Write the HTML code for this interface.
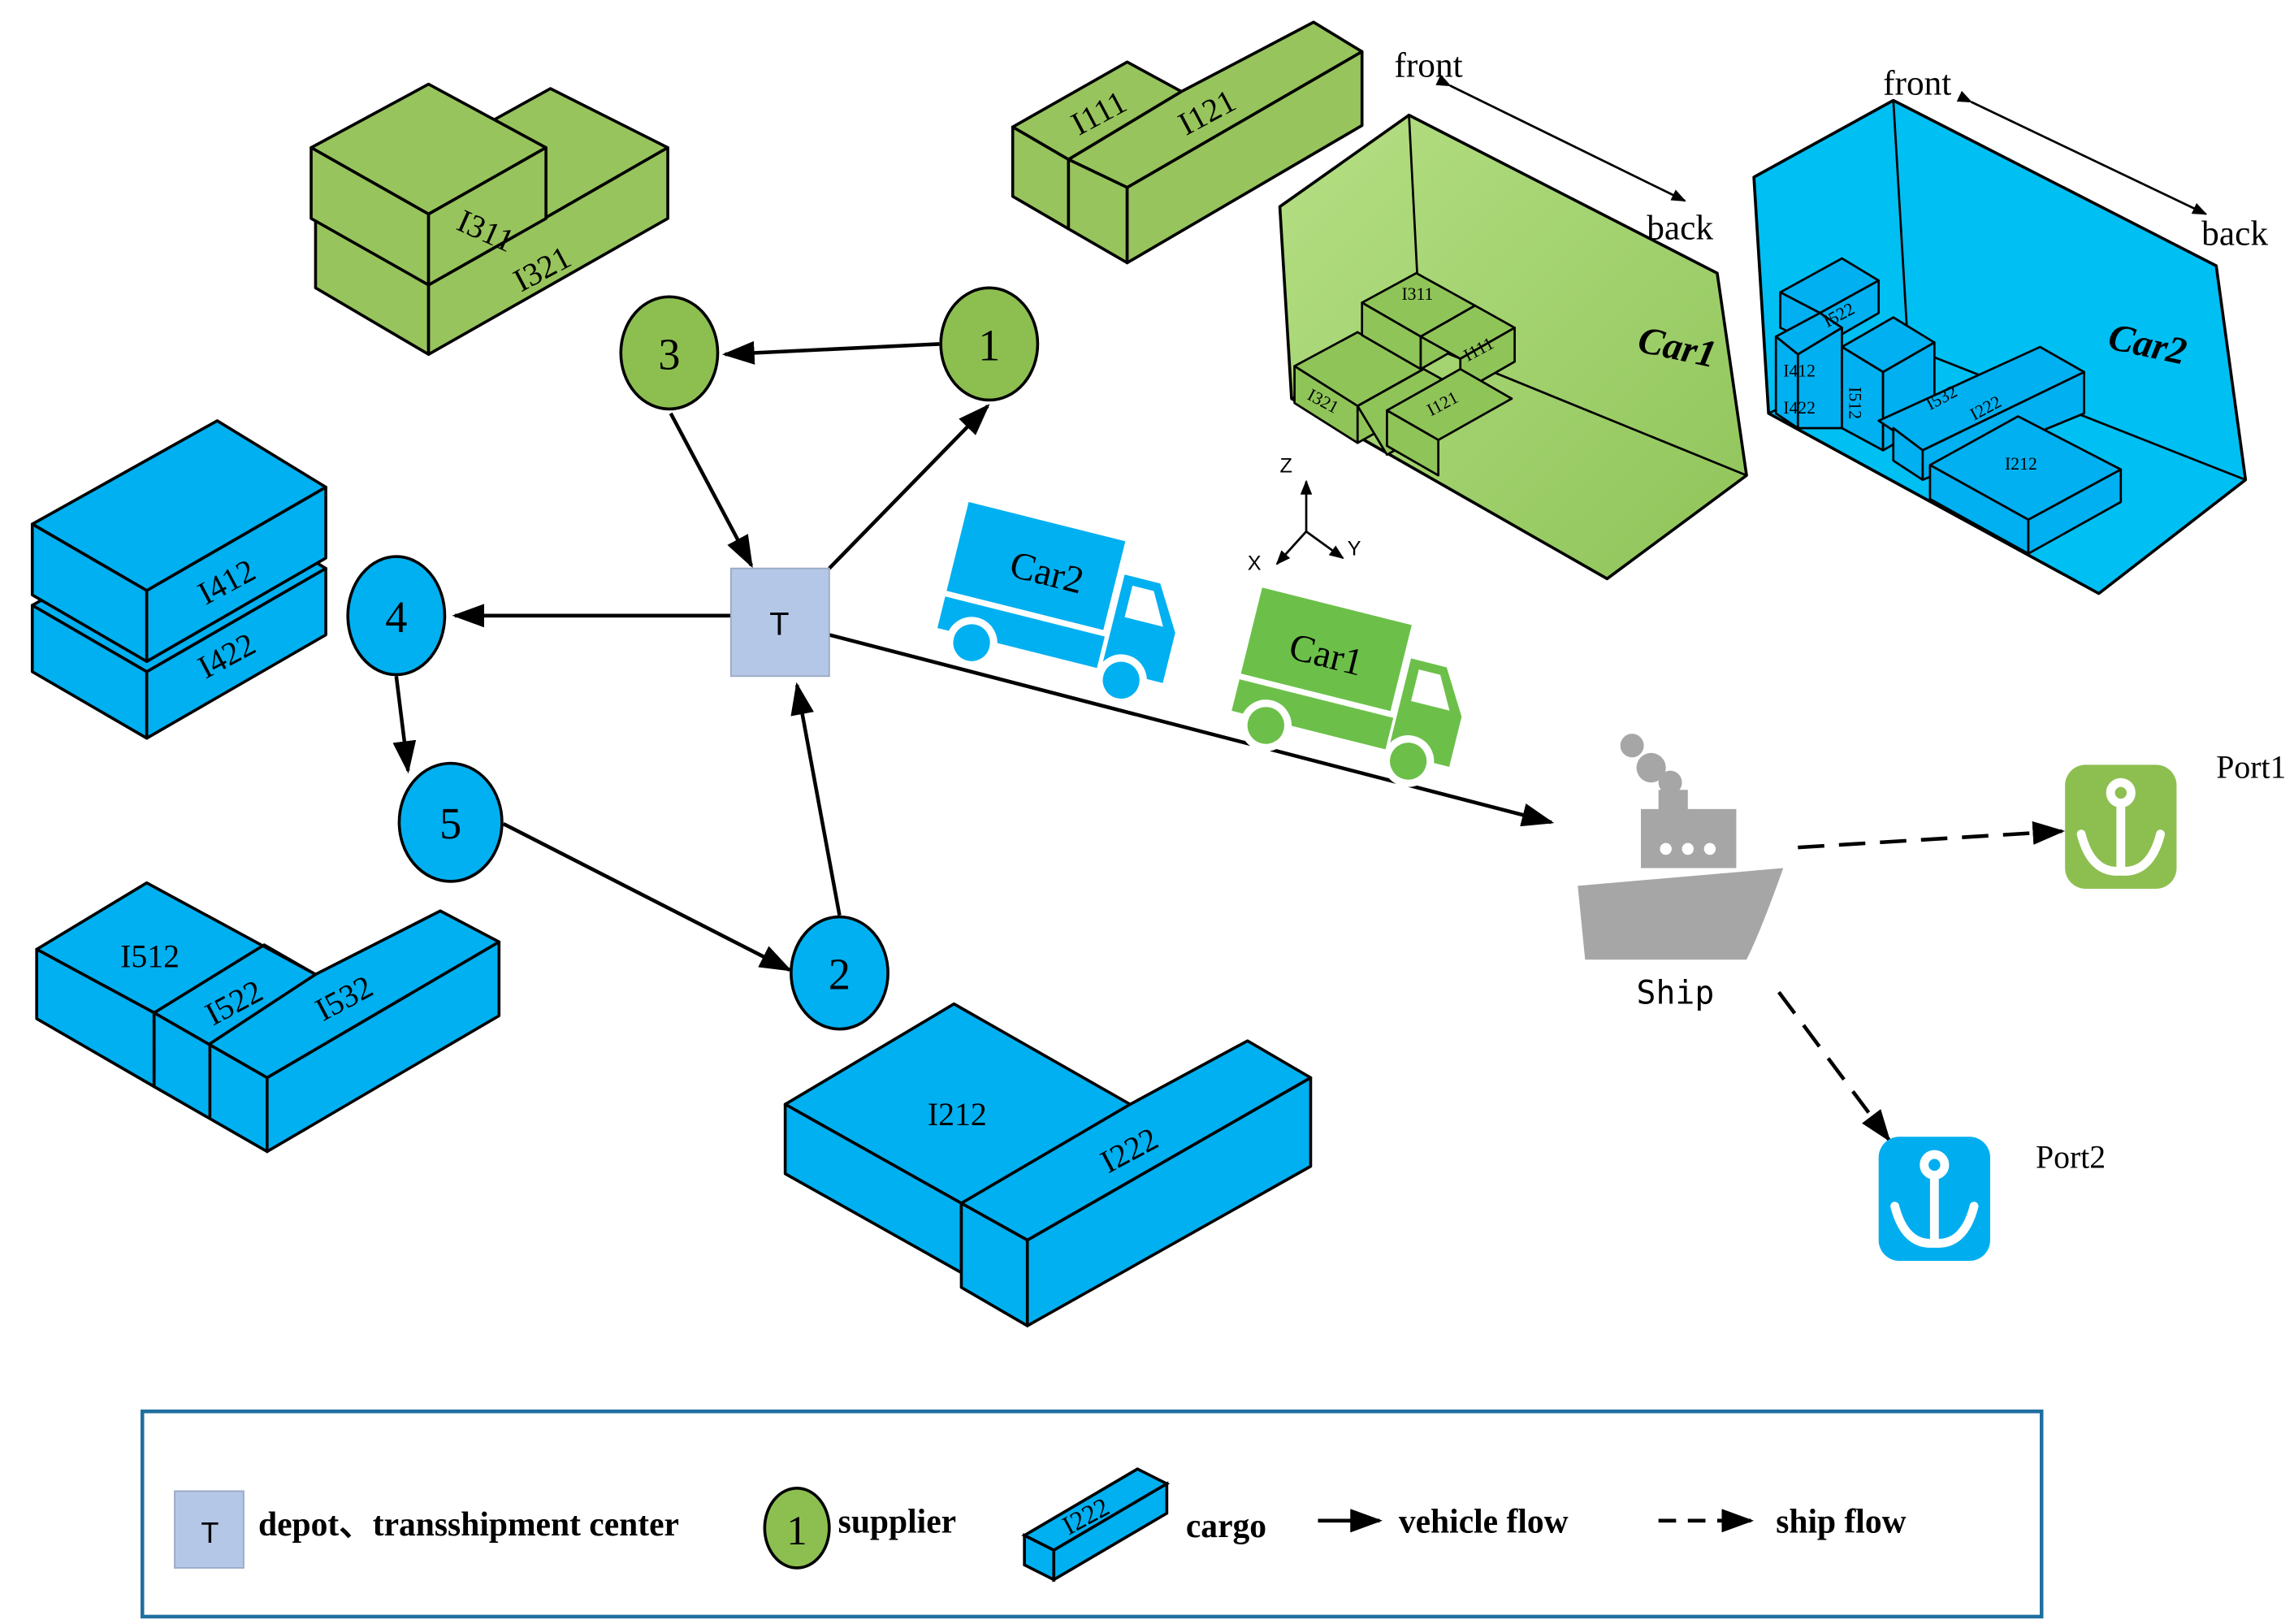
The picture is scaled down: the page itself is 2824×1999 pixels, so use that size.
<!DOCTYPE html>
<html><head><meta charset="utf-8"><style>html,body{margin:0;padding:0;background:#fff}svg{display:block}</style></head>
<body>
<svg width="2824" height="1999" viewBox="0 0 1563 1100" preserveAspectRatio="none" xmlns="http://www.w3.org/2000/svg" font-family="Liberation Serif, serif">
<defs>
<marker id="ah" markerWidth="10" markerHeight="8" refX="9" refY="4" orient="auto" markerUnits="userSpaceOnUse"><path d="M0,0 L10,4 L0,8 Z" fill="#000"/></marker>
<marker id="ah2" markerWidth="22" markerHeight="16" refX="20" refY="8" orient="auto" markerUnits="userSpaceOnUse"><path d="M0,0 L22,8 L0,16 Z" fill="#000"/></marker>
<linearGradient id="g1" x1="0" y1="0" x2="1" y2="1"><stop offset="0" stop-color="#b5df84"/><stop offset="1" stop-color="#8fc459"/></linearGradient>
</defs>
<g stroke="#000" stroke-width="2" stroke-linejoin="round">
<g fill="#97c45c">
<polygon points="215,148 375,60 455,100 292,193"/>
<polygon points="215,148 292,193 292,240 215,195"/>
<polygon points="292,193 455,100 455,148 292,240"/>
<polygon points="212,100 292,57 372,100 292,145"/>
<polygon points="212,100 292,145 292,193 212,148"/>
<polygon points="292,145 372,100 372,148 292,193"/>
</g>
<g fill="#97c45c">
<polygon points="690,86 768,42 805,62 728,108"/>
<polygon points="690,86 728,108 728,155 690,133"/>
<polygon points="728,108 805,62 895,15 928,35 768,127"/>
<polygon points="728,108 768,127 768,178 728,155"/>
<polygon points="768,127 928,35 928,85 768,178"/>
</g>
<g fill="#00b0f0">
<polygon points="22,410 148,340 222,385 100,455"/>
<polygon points="22,410 100,455 100,500 22,455"/>
<polygon points="100,455 222,385 222,430 100,500"/>
<polygon points="22,355 148,285 222,330 100,400"/>
<polygon points="22,355 100,400 100,448 22,403"/>
<polygon points="100,400 222,330 222,378 100,448"/>
</g>
<g fill="#00b0f0">
<polygon points="25,643 100,598 215,660 300,617 340,638 182,730 105,686"/>
<polygon points="25,643 105,686 105,736 25,690"/>
<polygon points="105,686 182,730 182,780 105,736"/>
<polygon points="182,730 340,638 340,688 182,780"/>
<polyline fill="none" points="105,686 180,640 215,660"/>
<line x1="143" y1="707" x2="143" y2="757"/><line x1="143" y1="707" x2="215" y2="660"/>
</g>
<g fill="#00b0f0">
<polygon points="535,748 650,680 770,748 850,705 893,730 700,840 655,815"/>
<polygon points="535,748 655,815 655,862 535,795"/>
<polygon points="655,815 700,840 700,898 655,872"/>
<polygon points="700,840 893,730 893,790 700,898"/>
<line x1="655" y1="815" x2="770" y2="748"/>
</g>
<polygon points="872,140 960,78 1170,185 1190,322 1095,392 880,270" fill="url(#g1)"/>
<polyline fill="none" points="960,78 968,232 1190,322" stroke-width="1.5"/>
<line x1="968" y1="232" x2="880" y2="270" stroke-width="1.5"/>
<g fill="#8fc459" stroke-width="1.5">
<polygon points="882,248 925,225 970,250 925,275"/><polygon points="882,248 925,275 925,300 882,273"/><polygon points="925,275 970,250 970,275 925,300"/>
<polygon points="925,275 970,250 1010,272 945,308"/>
<polygon points="928,205 965,185 1005,207 968,228"/><polygon points="928,205 968,228 968,250 928,227"/><polygon points="968,228 1005,207 1005,229 968,250"/>
<polygon points="968,228 1005,207 1032,222 995,243"/><polygon points="995,243 1032,222 1032,245 995,266"/>
<polygon points="945,278 995,250 1030,270 980,298"/><polygon points="945,278 980,298 980,322 945,302"/>
</g>
<polygon points="1195,120 1290,68 1510,180 1530,325 1430,402 1205,280" fill="#00bff3"/>
<polyline fill="none" points="1290,68 1300,235 1530,325" stroke-width="1.5"/>
<line x1="1300" y1="235" x2="1205" y2="280" stroke-width="1.5"/>
<g fill="#00b0f0" stroke-width="1.5">
<polygon points="1213,198 1255,175 1280,190 1240,212"/><polygon points="1213,198 1240,212 1240,235 1213,222"/><polygon points="1240,212 1280,190 1280,212 1240,235"/>
<polygon points="1210,228 1240,212 1255,222 1225,240"/><polygon points="1210,228 1225,240 1225,290 1210,280"/>
<polygon points="1225,240 1255,222 1255,290 1225,290" />
<polygon points="1255,235 1290,215 1318,232 1283,252"/><polygon points="1255,235 1283,252 1283,305 1255,290"/><polygon points="1283,252 1318,232 1318,285 1283,305"/>
<polygon points="1280,285 1390,235 1420,252 1310,305"/><polygon points="1290,290 1310,305 1310,325 1290,312"/>
<polygon points="1310,305 1420,252 1420,280 1310,325"/>
<polygon points="1315,315 1375,282 1445,318 1382,352"/><polygon points="1315,315 1382,352 1382,375 1315,338"/><polygon points="1382,352 1445,318 1445,340 1382,375"/>
</g>
</g>
<g font-size="22" fill="#000">
<text transform="translate(310,155) rotate(24)">I311</text>
<text transform="translate(355,198) rotate(-28)">I321</text>
<text transform="translate(735,92) rotate(-28)">I111</text>
<text transform="translate(808,92) rotate(-28)">I121</text>
<text transform="translate(140,410) rotate(-28)">I412</text>
<text transform="translate(140,460) rotate(-28)">I422</text>
<text transform="translate(82,655)">I512</text>
<text transform="translate(145,695) rotate(-28)">I522</text>
<text transform="translate(220,692) rotate(-28)">I532</text>
<text transform="translate(632,762)">I212</text>
<text transform="translate(755,795) rotate(-28)">I222</text>
</g>
<g font-size="12" fill="#000">
<text x="955" y="203">I311</text>
<text transform="translate(1000,245) rotate(-28)">I111</text>
<text transform="translate(975,282) rotate(-28)">I121</text>
<text transform="translate(890,270) rotate(28)">I321</text>
<text transform="translate(1245,222) rotate(-28)">I522</text>
<text x="1215" y="255">I412</text>
<text x="1215" y="280">I422</text>
<text transform="translate(1260,262) rotate(90)">I512</text>
<text transform="translate(1315,278) rotate(-28)">I532</text>
<text transform="translate(1345,285) rotate(-28)">I222</text>
<text x="1366" y="318">I212</text>
</g>
<g font-size="24" fill="#000">
<text x="950" y="52">front</text><text x="1122" y="162">back</text>
<text x="1283" y="64">front</text><text x="1500" y="166">back</text>
<text x="1116" y="243" font-style="italic" font-weight="bold" font-size="26" transform="rotate(12 1140 235)">Car1</text>
<text x="1436" y="241" font-style="italic" font-weight="bold" font-size="26" transform="rotate(12 1460 235)">Car2</text>
</g>
<g stroke="#000" stroke-width="1.5">
<line x1="988" y1="58" x2="1148" y2="136" marker-end="url(#ah)" marker-start="url(#ah)"/>
<line x1="1343" y1="69" x2="1503" y2="145" marker-end="url(#ah)" marker-start="url(#ah)"/>
</g>
<g stroke="#000" stroke-width="1.5" font-size="14" font-family="Liberation Sans, sans-serif">
<line x1="890" y1="360" x2="890" y2="326" marker-end="url(#ah)"/>
<line x1="890" y1="360" x2="870" y2="382" marker-end="url(#ah)"/>
<line x1="890" y1="360" x2="915" y2="378" marker-end="url(#ah)"/>
<text x="872" y="320" stroke="none">Z</text><text x="850" y="386" stroke="none">X</text><text x="918" y="376" stroke="none">Y</text>
</g>
<g stroke="#000" stroke-width="2.5" fill="none">
<line x1="640" y1="233" x2="494" y2="240" marker-end="url(#ah2)"/>
<line x1="457" y1="280" x2="512" y2="383" marker-end="url(#ah2)"/>
<line x1="565" y1="385" x2="673" y2="275" marker-end="url(#ah2)"/>
<line x1="498" y1="417" x2="310" y2="417" marker-end="url(#ah2)"/>
<line x1="270" y1="458" x2="278" y2="522" marker-end="url(#ah2)"/>
<line x1="343" y1="558" x2="538" y2="657" marker-end="url(#ah2)"/>
<line x1="572" y1="620" x2="543" y2="464" marker-end="url(#ah2)"/>
<line x1="565" y1="430" x2="1057" y2="557" marker-end="url(#ah2)"/>
<line x1="1225" y1="574" x2="1405" y2="563" stroke-dasharray="18,10" marker-end="url(#ah2)"/>
<line x1="1212" y1="672" x2="1287" y2="772" stroke-dasharray="18,10" marker-end="url(#ah2)"/>
</g>
<g stroke="#000" stroke-width="2" font-size="30" text-anchor="middle">
<ellipse cx="456" cy="239" rx="33" ry="38" fill="#8dbf50"/><text x="456" y="250" stroke="none">3</text>
<ellipse cx="674" cy="233" rx="33" ry="38" fill="#8dbf50"/><text x="674" y="244" stroke="none">1</text>
<ellipse cx="270" cy="417" rx="33" ry="40" fill="#00b0f0"/><text x="270" y="428" stroke="none">4</text>
<ellipse cx="307" cy="557" rx="35" ry="40" fill="#00b0f0"/><text x="307" y="568" stroke="none">5</text>
<ellipse cx="572" cy="659" rx="33" ry="38" fill="#00b0f0"/><text x="572" y="670" stroke="none">2</text>
</g>
<rect x="498" y="385" width="67" height="73" fill="#b4c7e7" stroke="#9aa9c2"/>
<text x="531" y="430" font-size="22" text-anchor="middle" font-family="Liberation Sans, sans-serif">T</text>
<g transform="translate(660,340) rotate(14)">
<rect x="0" y="0" width="110" height="62" fill="#00b0f0"/>
<path d="M115,22 h25 l18,30 v35 h-43z" fill="#00b0f0"/><path d="M122,28 h15 l12,22 h-27z" fill="#fff"/>
<rect x="0" y="66" width="112" height="22" fill="#00b0f0"/>
<circle cx="25" cy="92" r="15" fill="#00b0f0" stroke="#fff" stroke-width="5"/><circle cx="130" cy="92" r="15" fill="#00b0f0" stroke="#fff" stroke-width="5"/>
<text x="38" y="42" font-size="26" fill="#000">Car2</text>
</g>
<g transform="translate(860,398) rotate(14)">
<rect x="0" y="0" width="105" height="60" fill="#6cc04a"/>
<path d="M110,22 h25 l18,30 v35 h-43z" fill="#6cc04a"/><path d="M117,28 h15 l12,22 h-27z" fill="#fff"/>
<rect x="0" y="64" width="108" height="22" fill="#6cc04a"/>
<circle cx="25" cy="90" r="15" fill="#6cc04a" stroke="#fff" stroke-width="5"/><circle cx="125" cy="90" r="15" fill="#6cc04a" stroke="#fff" stroke-width="5"/>
<text x="28" y="42" font-size="26" fill="#000">Car1</text>
</g>
<g fill="#a6a6a6">
<circle cx="1112" cy="505" r="8"/><circle cx="1125" cy="520" r="10"/><circle cx="1138" cy="530" r="8"/>
<rect x="1130" y="535" width="20" height="14"/>
<rect x="1118" y="548" width="65" height="40"/>
<path d="M1075,600 L1215,588 Q1200,630 1190,650 L1080,650 Z"/>
</g>
<g fill="#fff"><circle cx="1135" cy="575" r="4"/><circle cx="1150" cy="575" r="4"/><circle cx="1165" cy="575" r="4"/></g>
<text x="1115" y="680" font-size="22" font-family="DejaVu Sans Mono, monospace">Ship</text>
<rect x="1407" y="518" width="76" height="84" rx="14" fill="#8dbf50"/>
<rect x="1280" y="770" width="76" height="84" rx="14" fill="#00aeef"/>
<g stroke="#fff" stroke-width="6" fill="none" stroke-linecap="round">
<circle cx="1445" cy="537" r="7"/><line x1="1445" y1="544" x2="1445" y2="590"/><path d="M1418,565 Q1425,592 1445,590 Q1465,592 1472,565"/>
<circle cx="1318" cy="789" r="7"/><line x1="1318" y1="796" x2="1318" y2="842"/><path d="M1291,817 Q1298,844 1318,842 Q1338,844 1345,817"/>
</g>
<text x="1510" y="527" font-size="22">Port1</text>
<text x="1387" y="791" font-size="22">Port2</text>
<rect x="97" y="956" width="1294" height="139" fill="none" stroke="#1f6f9f" stroke-width="2.5"/>
<rect x="119" y="1010" width="47" height="52" fill="#b4c7e7" stroke="#9aa9c2"/>
<text x="143" y="1045" font-size="20" text-anchor="middle" font-family="Liberation Sans, sans-serif">T</text>
<g font-size="23" font-weight="bold">
<text x="176" y="1040">depot、transshipment center</text>
<text x="571" y="1038">supplier</text>
<text x="808" y="1041">cargo</text>
<text x="953" y="1038">vehicle flow</text>
<text x="1210" y="1038">ship flow</text>
</g>
<ellipse cx="543" cy="1035" rx="22" ry="27" fill="#8dbf50" stroke="#000" stroke-width="2"/>
<text x="543" y="1046" font-size="28" text-anchor="middle">1</text>
<g fill="#00b0f0" stroke="#000" stroke-width="2">
<polygon points="698,1040 775,995 795,1005 718,1050"/>
<polygon points="698,1040 718,1050 718,1070 698,1060"/>
<polygon points="718,1050 795,1005 795,1025 718,1070"/>
</g>
<text transform="translate(728,1040) rotate(-28)" font-size="18">I222</text>
<line x1="898" y1="1030" x2="940" y2="1030" stroke="#000" stroke-width="2.5" marker-end="url(#ah2)"/>
<line x1="1130" y1="1030" x2="1193" y2="1030" stroke="#000" stroke-width="2.5" stroke-dasharray="12,8" marker-end="url(#ah2)"/>
</svg>
</body></html>
